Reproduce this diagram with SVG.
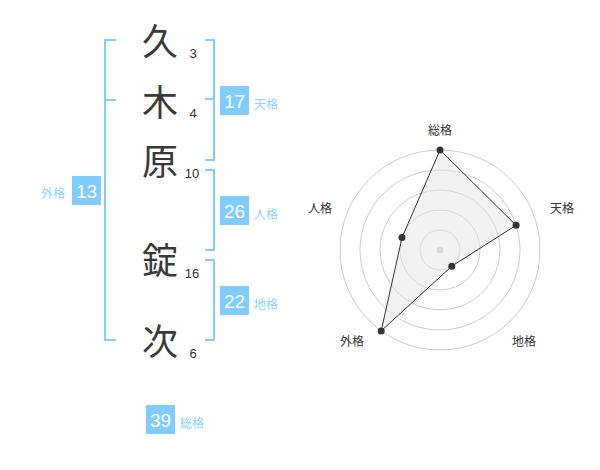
<svg xmlns="http://www.w3.org/2000/svg" width="600" height="470" viewBox="0 0 600 470">
<style>
.ch{font-family:"Noto Sans CJK JP","Noto Sans CJK SC",sans-serif;font-size:36px;fill:#3a3a3a;text-anchor:middle}
.num{font-family:"Liberation Sans",Arial,sans-serif;font-size:13px;fill:#333;text-anchor:middle}
.br{fill:none;stroke:#80ccff;stroke-width:2}
.box{fill:#80ccff}
.bv{font-family:"Liberation Sans",Arial,sans-serif;font-size:19px;fill:#fff;text-anchor:middle}
.bl{font-family:"Noto Sans CJK JP","Noto Sans CJK SC",sans-serif;font-size:12px;fill:#8fd2fb}
.ring{fill:none;stroke:#ccc;stroke-width:1}
.rl{font-family:"Noto Sans CJK JP","Noto Sans CJK SC",sans-serif;font-size:12px;fill:#333;text-anchor:middle}
.pt{fill:#333}
</style>
<g id="chars">
<text class="ch" x="160" y="55">久</text>
<text class="ch" x="160" y="116">木</text>
<text class="ch" x="160" y="175">原</text>
<text class="ch" x="160" y="274">錠</text>
<text class="ch" x="160" y="355">次</text>
<text class="num" x="193" y="58">3</text>
<text class="num" x="193" y="118">4</text>
<text class="num" x="192" y="178">10</text>
<text class="num" x="192" y="278">16</text>
<text class="num" x="193" y="358">6</text>
</g>
<g id="connectors">
<path class="br" d="M116,40 H105 V340 H116 M105,100 H116"/>
<path class="br" d="M205,40 H214 V160 H205 M205,99 H214"/>
<path class="br" d="M205,170 H214 V250 H205"/>
<path class="br" d="M205,260 H214 V340 H205"/>
</g>
<g id="tenkaku">
<rect class="box" x="220" y="86" width="29" height="29"/>
<text class="bv" x="234.5" y="107.5">17</text>
<text class="bl" x="254" y="109">天格</text>
</g>
<g id="jinkaku">
<rect class="box" x="220" y="196" width="29" height="29"/>
<text class="bv" x="234.5" y="217.5">26</text>
<text class="bl" x="254" y="219">人格</text>
</g>
<g id="chikaku">
<rect class="box" x="220" y="286" width="29" height="29"/>
<text class="bv" x="234.5" y="307.5">22</text>
<text class="bl" x="254" y="309">地格</text>
</g>
<g id="gaikaku">
<rect class="box" x="72" y="176" width="29" height="29"/>
<text class="bv" x="86.5" y="197.5">13</text>
<text class="bl" x="41" y="198">外格</text>
</g>
<g id="soukaku">
<rect class="box" x="146" y="405" width="29" height="29"/>
<text class="bv" x="160.5" y="426.5">39</text>
<text class="bl" x="180" y="428">総格</text>
</g>
<g id="radar">
<circle class="ring" cx="440" cy="250" r="20"/>
<circle class="ring" cx="440" cy="250" r="40"/>
<circle class="ring" cx="440" cy="250" r="60"/>
<circle class="ring" cx="440" cy="250" r="80"/>
<circle class="ring" cx="440" cy="250" r="100"/>
<circle cx="440" cy="250" r="3.5" fill="#ccc"/>
<polygon points="440,150 516.1,225.3 451.8,266.2 381.2,330.9 402,237.6" fill="#e6e6e6" fill-opacity="0.5" stroke="#333" stroke-width="1"/>
<circle class="pt" cx="440" cy="150" r="3.5"/>
<circle class="pt" cx="516.1" cy="225.3" r="3.5"/>
<circle class="pt" cx="451.8" cy="266.2" r="3.5"/>
<circle class="pt" cx="381.2" cy="330.9" r="3.5"/>
<circle class="pt" cx="402" cy="237.6" r="3.5"/>
<text class="rl" x="440" y="135">総格</text>
<text class="rl" x="562" y="213">天格</text>
<text class="rl" x="524" y="346">地格</text>
<text class="rl" x="352" y="346">外格</text>
<text class="rl" x="320" y="213">人格</text>
</g>
</svg>
